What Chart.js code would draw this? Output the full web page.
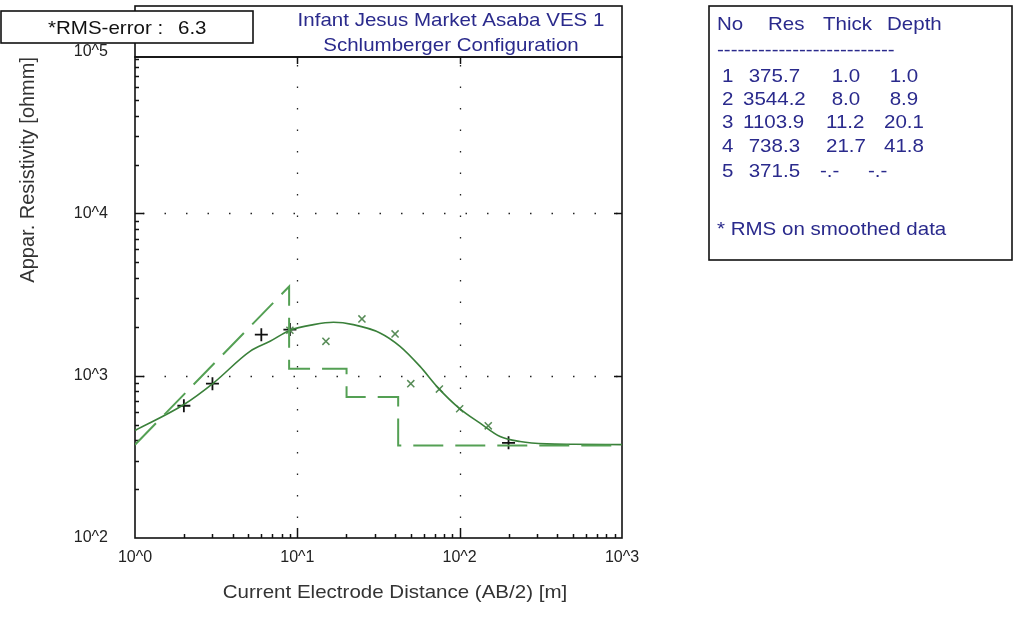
<!DOCTYPE html>
<html>
<head>
<meta charset="utf-8">
<script src="https://cdn.jsdelivr.net/npm/chart.js@4.4.1/dist/chart.umd.min.js"></script>
<style>
  html, body { margin: 0; padding: 0; background: #ffffff; overflow: hidden; }
  #wrap { width: 1024px; height: 619px; }
  canvas { display: block; }
</style>
</head>
<body>
<div id="wrap"><canvas id="ves" width="1024" height="619" style="width:1024px;height:619px"></canvas></div>
<script>
// ---- texts ----
const chartTitle = ['Infant Jesus Market Asaba VES 1', 'Schlumberger Configuration'];
const rmsLabel = '*RMS-error :';
const rmsValue = '6.3';
const xTitle = 'Current Electrode Distance (AB/2) [m]';
const yTitle = 'Appar. Resistivity [ohmm]';
const tableHeader = ['No', 'Res', 'Thick', 'Depth'];
const tableNote = '* RMS on smoothed data';

// ---- axis ticks ----
const xTickValues = [1, 10, 100, 1000];
const yTickValues = [100, 1000, 10000, 100000];

// ---- field readings (+) ----
const fieldAB = [2, 3, 6, 9, 200];
const fieldRho = [653, 893, 1791, 1923, 386];

// ---- smoothed readings (x) ----
const smoothAB = [9, 15, 25, 40, 50, 75, 100, 150];
const smoothRho = [1905, 1629, 2239, 1809, 893, 827, 626, 491];

// ---- computed model response curve ----
const curveAB = [1, 1.99, 3.04, 5.11, 6.79, 9.02, 12.6, 16.7, 22.1, 32.3, 42.9, 57.0, 73.9, 99.1, 133.6, 177.4, 235.5, 344, 500, 1000];
const curveRho = [460, 662, 901, 1413, 1629, 1905, 2064, 2133, 2064, 1835, 1517, 1141, 839, 632, 510, 422, 393, 380, 378, 376];

// ---- layered model ----
const layerNo = [1, 2, 3, 4, 5];
const layerRes = [375.7, 3544.2, 1103.9, 738.3, 371.5];
const layerThick = [1.0, 8.0, 11.2, 21.7, null];
const layerDepth = [1.0, 8.9, 20.1, 41.8, null];

const xMin = 1, xMax = 1000, yMin = 100, yMax = 92000;

// layered model as a step line: each layer boundary drops vertically
function layerSteps() {
  const pts = [{ x: layerDepth[0], y: layerRes[0] }];
  for (let i = 1; i < layerRes.length; i++) {
    const d = layerDepth[i];
    if (d == null) { pts.push({ x: xMax, y: layerRes[i] }); break; }
    if (i === 1) {
      pts.push({ x: d, y: layerRes[i] });
    } else {
      pts.push({ x: layerDepth[i - 1], y: layerRes[i] });
      pts.push({ x: d, y: layerRes[i] });
    }
    pts.push({ x: d, y: layerRes[i + 1] });
  }
  const out = [];
  pts.forEach(p => {
    const q = out[out.length - 1];
    if (!q || q.x !== p.x || q.y !== p.y) out.push(p);
  });
  return out;
}

const zip = (xs, ys) => xs.map((x, i) => ({ x, y: ys[i] }));

const GREEN_LINE = 'rgb(58,128,58)';
const GREEN_DASH = 'rgb(84,160,84)';
const GREEN_MARK = 'rgb(88,140,88)';
const NAVY = '#2a2a8c';
const FONT = '"Liberation Sans", Arial, sans-serif';
const TEXT_SIZE = 19;
const TEXT_STRETCH = 1.08;

// text drawn slightly widened, as the plotting program renders it
function wideText(ctx, str, x, y, align) {
  ctx.save();
  ctx.translate(x, y);
  ctx.scale(TEXT_STRETCH, 1);
  ctx.textAlign = align || 'left';
  ctx.textBaseline = 'middle';
  ctx.fillText(str, 0, 0);
  ctx.restore();
}
const padNum = (v, n) => { const s = v.toFixed(1); return ' '.repeat(Math.max(0, n - s.length)) + s; };

const decor = {
  id: 'decor',
  beforeDraw(chart) {
    const { ctx, width, height } = chart;
    ctx.save();
    ctx.fillStyle = '#ffffff';
    ctx.fillRect(0, 0, width, height);
    ctx.restore();
  },
  beforeDatasetsDraw(chart) {
    const { ctx, chartArea: a, scales: { x, y } } = chart;
    ctx.save();
    // dotted decade grid
    ctx.strokeStyle = '#222';
    ctx.lineWidth = 1.3;
    ctx.setLineDash([1.5, 20]);
    [10, 100].forEach(v => {
      const px = Math.round(x.getPixelForValue(v)) + 0.5;
      ctx.beginPath(); ctx.moveTo(px, a.top + 8); ctx.lineTo(px, a.bottom); ctx.stroke();
    });
    [1000, 10000].forEach(v => {
      const py = Math.round(y.getPixelForValue(v)) + 0.5;
      ctx.beginPath(); ctx.moveTo(a.left + 8, py); ctx.lineTo(a.right, py); ctx.stroke();
    });
    ctx.setLineDash([]);
    // tick marks pointing into the plot
    ctx.strokeStyle = '#111';
    ctx.lineWidth = 1.5;
    [1, 10, 100].forEach(d => {
      for (let k = 1; k <= 9; k++) {
        const v = k * d;
        if (v <= xMin || v >= xMax) continue;
        const px = Math.round(x.getPixelForValue(v)) + 0.5;
        const len = k === 1 ? 10 : 4;
        ctx.beginPath(); ctx.moveTo(px, a.bottom); ctx.lineTo(px, a.bottom - len); ctx.stroke();
        if (k === 1) { ctx.beginPath(); ctx.moveTo(px, a.top); ctx.lineTo(px, a.top + 7); ctx.stroke(); }
      }
    });
    [100, 1000, 10000].forEach(d => {
      for (let k = 1; k <= 9; k++) {
        const v = k * d;
        if (v <= yMin || v >= yMax) continue;
        const py = Math.round(y.getPixelForValue(v)) + 0.5;
        const len = k === 1 ? 9 : 4;
        ctx.beginPath(); ctx.moveTo(a.left, py); ctx.lineTo(a.left + len, py); ctx.stroke();
        if (k === 1) { ctx.beginPath(); ctx.moveTo(a.right, py); ctx.lineTo(a.right - 8, py); ctx.stroke(); }
      }
    });
    // plot frame
    ctx.lineWidth = 1.6;
    ctx.strokeStyle = '#111';
    ctx.strokeRect(a.left, a.top, a.right - a.left, a.bottom - a.top);
    ctx.restore();
  },
  afterDraw(chart) {
    const { ctx, chartArea: a } = chart;
    ctx.save();
    ctx.lineWidth = 1.6;
    ctx.strokeStyle = '#111';
    ctx.font = TEXT_SIZE + 'px ' + FONT;

    // x axis title
    ctx.fillStyle = '#333';
    wideText(ctx, xTitle, 395, 593, 'center');

    // title box above the plot
    ctx.strokeRect(a.left, 6, a.right - a.left, a.top - 6);
    ctx.fillStyle = NAVY;
    wideText(ctx, chartTitle[0], 451, 21, 'center');
    wideText(ctx, chartTitle[1], 451, 46, 'center');

    // rms box
    ctx.fillStyle = '#ffffff';
    ctx.fillRect(1, 11, 252, 32);
    ctx.strokeRect(1, 11, 252, 32);
    ctx.fillStyle = '#111';
    wideText(ctx, rmsLabel, 48, 29);
    wideText(ctx, rmsValue, 178, 29);

    // layer table
    ctx.strokeRect(709, 6, 303, 254);
    ctx.fillStyle = NAVY;
    const hx = [717, 768, 823, 887];
    tableHeader.forEach((h, i) => wideText(ctx, h, hx[i], 25));
    wideText(ctx, '-'.repeat(26), 717, 51);
    const rowY = [77, 100, 123, 147, 172];
    layerNo.forEach((n, i) => {
      const yy = rowY[i];
      wideText(ctx, String(n), 722, yy);
      wideText(ctx, padNum(layerRes[i], 6), 743, yy);
      if (layerThick[i] == null) {
        wideText(ctx, '-.-', 820, yy);
        wideText(ctx, '-.-', 868, yy);
      } else {
        wideText(ctx, padNum(layerThick[i], 4), 826, yy);
        wideText(ctx, padNum(layerDepth[i], 4), 884, yy);
      }
    });
    wideText(ctx, tableNote, 717, 230);
    ctx.restore();
  }
};

const decadeTicks = vals => scale => { scale.ticks = vals.map(v => ({ value: v, major: true })); };
const powLabel = v => '10^' + Math.round(Math.log10(v));

new Chart(document.getElementById('ves'), {
  type: 'scatter',
  data: {
    datasets: [
      {
        label: 'layers',
        data: layerSteps(),
        showLine: true,
        borderColor: GREEN_DASH,
        borderWidth: 2,
        borderDash: [30, 12],
        pointRadius: 0,
        tension: 0
      },
      {
        label: 'model',
        data: zip(curveAB, curveRho),
        showLine: true,
        borderColor: GREEN_LINE,
        borderWidth: 1.6,
        pointRadius: 0,
        cubicInterpolationMode: 'monotone'
      },
      {
        label: 'smoothed',
        data: zip(smoothAB, smoothRho),
        pointStyle: 'crossRot',
        pointRadius: 5,
        borderColor: GREEN_MARK,
        borderWidth: 1.5,
        backgroundColor: GREEN_MARK
      },
      {
        label: 'field',
        data: zip(fieldAB, fieldRho),
        pointStyle: 'cross',
        pointRadius: 6.5,
        borderColor: '#111',
        borderWidth: 1.8,
        backgroundColor: '#111'
      }
    ]
  },
  options: {
    responsive: false,
    maintainAspectRatio: false,
    animation: false,
    devicePixelRatio: 1,
    layout: { padding: { left: 0, top: 57, right: 402, bottom: 0 } },
    plugins: { legend: { display: false }, tooltip: { enabled: false }, title: { display: false } },
    scales: {
      x: {
        type: 'logarithmic',
        min: xMin, max: xMax,
        afterBuildTicks: decadeTicks(xTickValues),
        afterFit: s => { s.height = 81; },
        grid: { display: false, drawTicks: false },
        border: { display: false },
        ticks: {
          autoSkip: false, maxRotation: 0, padding: 10,
          color: '#222', font: { family: FONT, size: 16 },
          callback: v => powLabel(v)
        },
        title: { display: false }
      },
      y: {
        type: 'logarithmic',
        min: yMin, max: yMax,
        afterBuildTicks: decadeTicks(yTickValues),
        afterFit: s => { s.width = 135; },
        grid: { display: false, drawTicks: false },
        border: { display: false },
        ticks: {
          autoSkip: false, padding: 27,
          color: '#222', font: { family: FONT, size: 16 },
          callback: v => powLabel(v)
        },
        title: {
          display: true, text: yTitle, align: 'end', color: '#333',
          font: { family: FONT, size: 20 }, padding: { top: 16, bottom: 0 }
        }
      }
    }
  },
  plugins: [decor]
});
</script>
</body>
</html>
